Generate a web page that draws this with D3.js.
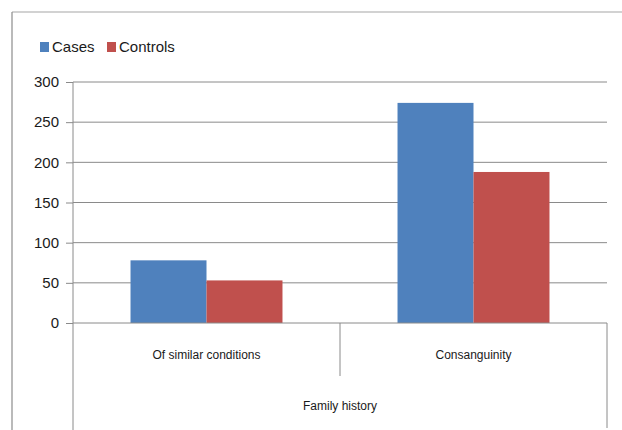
<!DOCTYPE html>
<html>
<head>
<meta charset="utf-8">
<script src="https://cdn.jsdelivr.net/npm/d3@7"></script>
<style>
  html, body { margin: 0; padding: 0; background: #fff; }
  svg { display: block; }
  text { font-family: "Liberation Sans", Arial, sans-serif; fill: #1a1a1a; }
</style>
</head>
<body>
<svg id="chart" width="622" height="430"></svg>
<script>
// Family history counts, cases vs. controls
const categories = ["Of similar conditions", "Consanguinity"];
const seriesNames = ["Cases", "Controls"];
const casesValues = [78, 274];
const controlsValues = [53, 188];
const yTicks = [0, 50, 100, 150, 200, 250, 300];
const groupLabel = "Family history";
const colors = ["#4F81BD", "#C0504D"];

const svg = d3.select("#chart");
const W = 622, H = 430;
const margin = { left: 73, right: 15, top: 82, bottom: 107 };
const plotW = W - margin.left - margin.right;
const plotH = H - margin.top - margin.bottom;

// Outer chart frame (top and left edges)
svg.append("line").attr("x1", 12).attr("x2", W).attr("y1", 12).attr("y2", 12)
  .attr("stroke", "#a6a6a6").attr("stroke-width", 1.2);
svg.append("line").attr("x1", 12).attr("x2", 12).attr("y1", 12).attr("y2", H)
  .attr("stroke", "#8c8c8c").attr("stroke-width", 1.2);

const g = svg.append("g").attr("transform", `translate(${margin.left},${margin.top})`);

const x0 = d3.scaleBand().domain(categories).range([0, plotW]).paddingInner(0).paddingOuter(0);
const x1 = d3.scaleBand().domain(seriesNames).range([0, x0.bandwidth()]).paddingInner(0).paddingOuter(0.757);
const y = d3.scaleLinear().domain([0, 300]).range([plotH, 0]);

// Horizontal gridlines
g.append("g").selectAll("line").data(yTicks.filter(t => t > 0)).join("line")
  .attr("x1", 0).attr("x2", plotW)
  .attr("y1", d => y(d)).attr("y2", d => y(d))
  .attr("stroke", "#8a8a8a").attr("stroke-width", 1);

// Y axis
const yAxis = g.append("g").call(d3.axisLeft(y).tickValues(yTicks).tickSize(7).tickPadding(7));
yAxis.select(".domain").remove();
yAxis.selectAll(".tick line").attr("stroke", "#8a8a8a");
yAxis.selectAll(".tick text").style("font-size", "15px").attr("fill", "#1a1a1a");
g.append("line").attr("x1", 0).attr("x2", 0).attr("y1", 0).attr("y2", H - margin.top)
  .attr("stroke", "#8a8a8a");

// Bars
const data = categories.map((c, i) => ({ cat: c, vals: [casesValues[i], controlsValues[i]] }));
const groups = g.append("g").selectAll("g").data(data).join("g")
  .attr("transform", d => `translate(${x0(d.cat)},0)`);
groups.selectAll("rect").data(d => d.vals.map((v, k) => ({ s: seriesNames[k], v, k }))).join("rect")
  .attr("x", d => x1(d.s))
  .attr("width", x1.bandwidth())
  .attr("y", d => y(d.v))
  .attr("height", d => plotH - y(d.v))
  .attr("fill", d => colors[d.k]);

// Baseline
g.append("line").attr("x1", 0).attr("x2", plotW).attr("y1", plotH).attr("y2", plotH)
  .attr("stroke", "#8a8a8a");

// Category separators and outer bracket lines
g.append("line").attr("x1", x0.bandwidth()).attr("x2", x0.bandwidth())
  .attr("y1", plotH).attr("y2", plotH + 53).attr("stroke", "#8a8a8a");
g.append("line").attr("x1", plotW).attr("x2", plotW)
  .attr("y1", plotH).attr("y2", H - margin.top - 2).attr("stroke", "#8a8a8a");

// Category labels
g.append("g").selectAll("text").data(categories).join("text")
  .attr("x", d => x0(d) + x0.bandwidth() / 2)
  .attr("y", plotH + 36)
  .attr("text-anchor", "middle")
  .style("font-size", "12px")
  .text(d => d);

g.append("text")
  .attr("x", plotW / 2).attr("y", plotH + 87)
  .attr("text-anchor", "middle")
  .style("font-size", "12px")
  .text(groupLabel);

// Legend
const legend = svg.append("g").attr("transform", "translate(40,42)");
const legendOffsets = [0, 67];
seriesNames.forEach((name, i) => {
  const item = legend.append("g").attr("transform", `translate(${legendOffsets[i]},0)`);
  item.append("rect").attr("x", 0).attr("y", 0).attr("width", 9).attr("height", 10).attr("fill", colors[i]);
  item.append("text").attr("x", 12).attr("y", 10).style("font-size", "15px").text(name);
});
</script>
</body>
</html>
